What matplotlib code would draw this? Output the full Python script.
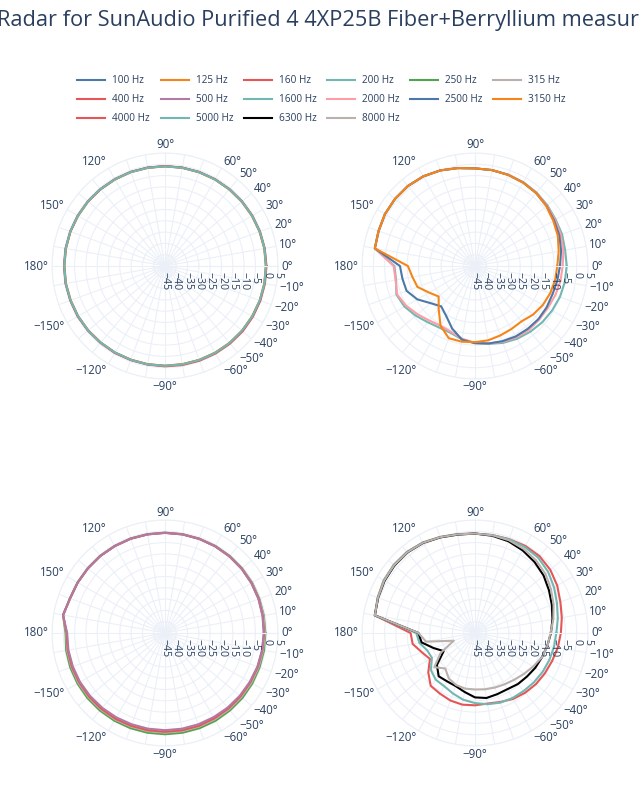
import numpy as np
import matplotlib
matplotlib.use("Agg")
import matplotlib.pyplot as plt
from matplotlib.transforms import offset_copy

plt.rcParams['font.family'] = ['Open Sans', 'DejaVu Sans']
TXT = '#2a3f5f'
GRID = '#ebf0f8'

# angles of the measurements, degrees
angles = [0, 10, 20, 30, 40, 50, 60, 70, 80, 90, 100, 110, 120, 130, 140, 150, 160, 170, 180,
          -170, -160, -150, -140, -130, -120, -110, -100, -90, -80, -70, -60, -50, -40, -30, -20, -10]

# SPL in dB, one list per frequency (same order as angles)
spl_100 = [-0.3, -0.3, -0.4, -0.5, -0.6, -0.7, -0.7, -0.8, -0.8, -0.8, -0.8, -0.7, -0.7, -0.6, -0.5, -0.5, -0.4, -0.4, -0.4,
           -0.4, -0.5, -0.5, -0.6, -0.7, -0.7, -0.8, -0.8, -0.8, -0.8, -0.7, -0.6, -0.5, -0.4, -0.4, -0.3, -0.3]
spl_125 = [-0.4, -0.4, -0.5, -0.6, -0.7, -0.8, -0.8, -0.9, -0.9, -0.9, -0.9, -0.8, -0.8, -0.7, -0.6, -0.6, -0.5, -0.5, -0.5,
           -0.5, -0.6, -0.6, -0.7, -0.8, -0.8, -0.9, -0.9, -0.9, -0.9, -0.8, -0.7, -0.6, -0.5, -0.5, -0.4, -0.4]
spl_160 = [-0.1, -0.2, -0.3, -0.4, -0.5, -0.6, -0.7, -0.7, -0.8, -0.8, -0.8, -0.7, -0.6, -0.6, -0.5, -0.4, -0.4, -0.3, -0.3,
           -0.3, -0.4, -0.4, -0.5, -0.6, -0.6, -0.7, -0.7, -0.6, -0.5, -0.4, -0.3, -0.2, -0.1, -0.1, -0.1, -0.1]
spl_200 = [-0.3, -0.3, -0.4, -0.5, -0.6, -0.7, -0.8, -0.8, -0.9, -0.9, -0.9, -0.8, -0.7, -0.6, -0.5, -0.5, -0.4, -0.4, -0.4,
           -0.4, -0.5, -0.6, -0.6, -0.7, -0.8, -0.8, -0.8, -0.8, -0.8, -0.7, -0.6, -0.5, -0.5, -0.4, -0.4, -0.3]

spl_250 = [-0.6, -0.6, -0.6, -0.5, -0.5, -0.5, -0.5, -0.6, -0.6, -0.6, -0.6, -0.5, -0.5, -0.4, -0.4, -0.3, -0.2, 0.8, -1.0,
           -0.6, -0.4, -0.3, -0.2, -0.2, -0.2, -0.2, -0.2, -0.2, -0.2, -0.2, -0.2, -0.3, -0.3, -0.4, -0.5, -0.5]
spl_315 = [-0.8, -0.7, -0.7, -0.6, -0.6, -0.6, -0.6, -0.6, -0.6, -0.6, -0.6, -0.6, -0.5, -0.5, -0.4, -0.4, -0.3, 0.8, -1.3,
           -1.0, -0.9, -0.8, -0.8, -0.8, -0.8, -0.9, -0.9, -0.9, -0.9, -0.9, -0.9, -0.9, -0.9, -0.9, -0.9, -0.9]
spl_400 = [-1.2, -1.1, -0.9, -0.8, -0.7, -0.7, -0.7, -0.7, -0.7, -0.7, -0.7, -0.6, -0.6, -0.5, -0.5, -0.4, -0.3, 0.8, -1.5,
           -1.3, -1.2, -1.2, -1.2, -1.2, -1.2, -1.3, -1.3, -1.3, -1.3, -1.3, -1.4, -1.4, -1.4, -1.4, -1.3, -1.3]
spl_500 = [-1.3, -1.2, -1.0, -0.9, -0.8, -0.7, -0.7, -0.7, -0.7, -0.7, -0.7, -0.6, -0.6, -0.5, -0.5, -0.4, -0.3, 0.8, -1.7,
           -1.6, -1.6, -1.6, -1.7, -1.8, -1.9, -2.0, -2.0, -2.0, -2.0, -2.0, -2.0, -1.9, -1.8, -1.7, -1.5, -1.4]

spl_1600 = [-4.4, -4.5, -4.0, -3.8, -3.2, -2.6, -2.2, -2.0, -1.9, -1.8, -1.0, 0.0, 0.8, 1.2, 1.2, 1.0, 0.4, 0.0, -9.3,
            -9.5, -8.0, -9.0, -10.8, -12.5, -13.5, -13.5, -12.0, -11.0, -10.0, -8.8, -7.8, -7.0, -6.2, -5.6, -5.0, -4.6]
spl_2000 = [-6.2, -5.3, -4.6, -4.1, -3.4, -2.7, -2.3, -2.0, -1.9, -1.8, -1.0, 0.0, 0.8, 1.2, 1.2, 1.0, 0.4, 0.0, -9.0,
            -9.3, -8.3, -9.8, -11.8, -13.5, -14.5, -14.0, -12.3, -11.0, -10.2, -9.3, -8.5, -8.0, -8.0, -7.8, -7.2, -6.6]
spl_2500 = [-7.4, -6.3, -5.3, -4.6, -3.7, -2.9, -2.4, -2.1, -1.9, -1.8, -1.0, 0.0, 0.8, 1.2, 1.2, 1.0, 0.4, 0.0, -11.8,
            -12.4, -12.8, -15.5, -19.4, -21.7, -19.5, -15.5, -11.9, -10.8, -10.2, -9.6, -9.0, -8.7, -8.4, -8.4, -8.5, -8.0]
spl_3150 = [-8.6, -7.4, -6.0, -5.0, -3.8, -2.9, -2.4, -2.1, -1.9, -1.8, -1.0, 0.0, 0.8, 1.2, 1.2, 1.0, 0.4, 0.0, -15.3,
            -16.9, -17.9, -21.5, -24.0, -20.0, -14.5, -11.0, -11.0, -11.3, -11.6, -12.3, -12.8, -13.0, -11.5, -10.4, -9.6, -9.0]

spl_4000 = [-7.0, -6.0, -4.8, -3.0, -1.5, -0.6, -0.5, -0.8, -1.0, -1.0, -0.6, 0.2, 1.2, 1.8, 1.9, 1.6, 0.8, 0.0, -16.5,
            -17.0, -20.0, -22.0, -18.0, -14.5, -14.0, -13.2, -12.8, -13.0, -13.3, -12.5, -11.3, -10.5, -9.8, -9.3, -8.7, -7.8]
spl_5000 = [-9.0, -7.8, -6.4, -4.6, -2.8, -1.5, -1.0, -0.9, -1.0, -1.0, -0.6, 0.2, 1.2, 1.8, 1.9, 1.6, 0.8, 0.0, -19.0,
            -20.0, -22.5, -23.0, -19.5, -18.0, -17.8, -16.5, -15.0, -14.0, -13.0, -12.2, -11.8, -11.5, -11.0, -10.5, -10.0, -9.5]
spl_6300 = [-11.4, -10.2, -8.8, -7.2, -5.4, -4.0, -2.8, -1.8, -1.3, -1.0, -0.8, 0.0, 1.0, 1.5, 1.5, 1.2, 0.6, 0.0, -20.0,
            -21.0, -25.5, -29.0, -23.0, -20.0, -20.3, -20.0, -18.5, -16.5, -15.8, -16.2, -16.3, -15.5, -15.0, -14.2, -13.5, -12.5]
spl_8000 = [-11.6, -9.8, -8.0, -6.2, -4.3, -3.0, -2.0, -1.3, -1.1, -1.0, -0.7, 0.1, 1.1, 1.6, 1.7, 1.4, 0.7, 0.0, -20.0,
            -23.0, -35.0, -27.5, -21.5, -24.5, -21.8, -20.5, -20.0, -20.0, -19.7, -19.3, -18.8, -18.0, -16.8, -15.3, -13.5, -12.4]

freq_labels = ['100 Hz', '125 Hz', '160 Hz', '200 Hz', '250 Hz', '315 Hz', '400 Hz', '500 Hz',
               '1600 Hz', '2000 Hz', '2500 Hz', '3150 Hz', '4000 Hz', '5000 Hz', '6300 Hz', '8000 Hz']
series = [spl_100, spl_125, spl_160, spl_200, spl_250, spl_315, spl_400, spl_500,
          spl_1600, spl_2000, spl_2500, spl_3150, spl_4000, spl_5000, spl_6300, spl_8000]
colors = ['#4C78A8', '#F58518', '#E45756', '#72B7B2', '#54A24B', '#BAB0AC', '#E45756', '#B279A2',
          '#72B7B2', '#FF9DA6', '#4C78A8', '#F58518', '#E45756', '#72B7B2', '#000000', '#BAB0AC']
# which subplot each trace goes to: 0 TL, 1 TR, 2 BL, 3 BR
panel = [0, 0, 0, 0, 2, 2, 2, 2, 1, 1, 1, 1, 3, 3, 3, 3]

theta_labels = {0: '0°', 10: '10°', 20: '20°', 30: '30°', 40: '40°', 50: '50°', 60: '60°',
                90: '90°', 120: '120°', 150: '150°', 180: '180°', 210: '−150°', 240: '−120°',
                270: '−90°', 300: '−60°', 310: '−50°', 320: '−40°', 330: '−30°', 340: '−20°', 350: '−10°'}
r_ticks = [-45, -40, -35, -30, -25, -20, -15, -10, -5, 0, 5]

fig = plt.figure(figsize=(6.4, 8), dpi=100)
fig.patch.set_facecolor('white')

# centres of the four polar plots in pixels, radius 113 px
centres = [(165, 266), (475, 266), (165, 633), (475, 633)]
rad = 113
axes = []
for cx, cy in centres:
    ax = fig.add_axes([(cx - rad) / 640, 1 - (cy + rad) / 800, 2 * rad / 640, 2 * rad / 800],
                      projection='polar')
    ax.set_facecolor('white')
    ax.set_ylim(-45, 5)
    ax.set_yticks(r_ticks)
    ax.set_yticklabels([])
    ax.set_xticks(np.deg2rad(list(range(0, 360, 10))))
    ax.set_xticklabels([])
    ax.grid(True, color=GRID, linewidth=0.8)
    ax.spines['polar'].set_color(GRID)
    ax.spines['polar'].set_linewidth(0.8)
    # radial axis line on top of the curves
    ax.plot([0, 0], [-45, 5], color=GRID, linewidth=0.8, zorder=6)

    # angular labels placed like plotly: anchored just outside the circle
    for d, lab in theta_labels.items():
        a = np.deg2rad(d)
        c, s = np.cos(a), np.sin(a)
        if c > 0.1:
            ha = 'left'
        elif c < -0.1:
            ha = 'right'
        else:
            ha = 'center'
        tr = offset_copy(ax.transData, fig=fig, x=3 * c, y=3 * s + 5 * s, units='dots')
        ax.text(a, 5, lab, transform=tr, ha=ha, va='center', fontsize=8.3,
                color=TXT, clip_on=False)

    off = offset_copy(ax.transData, fig=fig, x=0, y=-6, units='dots')
    for r in r_ticks:
        lab = str(r).replace('-', '−')
        ax.text(0, r, lab, transform=off, rotation=-90, rotation_mode='anchor',
                ha='left', va='center', fontsize=7.6, color=TXT, clip_on=False, zorder=7)
    axes.append(ax)

th = np.deg2rad(angles + [angles[0]])
handles = []
for lab, vals, col, p in zip(freq_labels, series, colors, panel):
    ln, = axes[p].plot(th, vals + [vals[0]], color=col, linewidth=1.5, label=lab, zorder=3)
    handles.append(ln)

# plotly-like row-major legend: matplotlib fills columns, so reorder
order = [0, 6, 12, 1, 7, 13, 2, 8, 14, 3, 9, 15, 4, 10, 5, 11]
leg = fig.legend([handles[i] for i in order], [freq_labels[i] for i in order],
                 ncol=6, loc='upper left', bbox_to_anchor=(0.121, 0.906), frameon=False,
                 fontsize=7.2, handlelength=2.8, handletextpad=0.7, columnspacing=1.05,
                 labelspacing=0.8, borderpad=0, borderaxespad=0)
for t in leg.get_texts():
    t.set_color(TXT)

fig.text(-0.004, 0.974, 'Radar for SunAudio Purified 4 4XP25B Fiber+Berryllium measured',
         ha='left', va='center', fontsize=15.7, color=TXT)

fig.savefig('out.png', dpi=100)
